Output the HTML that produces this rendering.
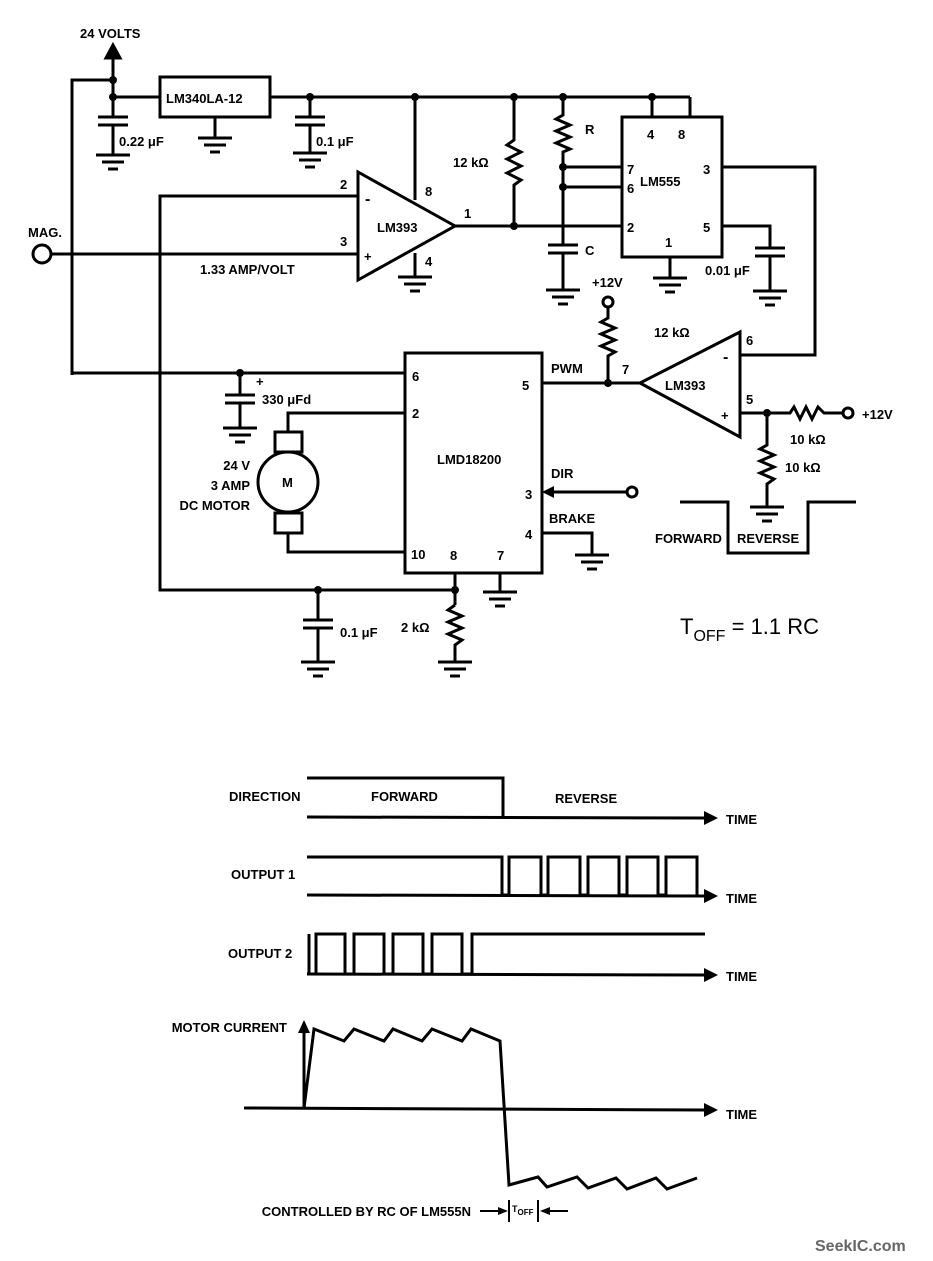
<!DOCTYPE html>
<html><head><meta charset="utf-8"><style>
html,body{margin:0;padding:0;background:#fff;}
svg{display:block;}
text{font-family:"Liberation Sans",sans-serif;font-weight:bold;font-size:13px;fill:#000;}
</style></head><body>
<svg width="933" height="1261" viewBox="0 0 933 1261" xmlns="http://www.w3.org/2000/svg">
<defs>
<g id="gnd"><line x1="-17" y1="0" x2="17" y2="0"/><line x1="-11" y1="7" x2="11" y2="7"/><line x1="-5" y1="14" x2="5" y2="14"/></g>
<g id="cap"><line x1="-15" y1="0" x2="15" y2="0"/><line x1="-15" y1="8" x2="15" y2="8"/></g>
</defs>
<g stroke="#000" stroke-width="3" fill="none" stroke-linejoin="miter">
<polyline points="72,375 72,80 113,80"/>
<line x1="113" y1="97" x2="113" y2="55"/>
<polygon points="113,45 106,58 120,58" fill="#000"/>
<line x1="113" y1="97" x2="160" y2="97"/>
<rect x="160" y="77" width="110" height="40"/>
<line x1="270" y1="97" x2="690" y2="97"/>
<line x1="690" y1="97" x2="690" y2="117"/>
<line x1="652" y1="97" x2="652" y2="117"/>
<line x1="113" y1="97" x2="113" y2="117"/><use href="#cap" x="113" y="117"/><line x1="113" y1="125" x2="113" y2="155"/><use href="#gnd" x="113" y="155"/>
<line x1="215" y1="117" x2="215" y2="138"/><use href="#gnd" x="215" y="138"/>
<line x1="310" y1="97" x2="310" y2="117"/><use href="#cap" x="310" y="117"/><line x1="310" y1="125" x2="310" y2="153"/><use href="#gnd" x="310" y="153"/>
<polygon points="358,172 358,280 455,226"/>
<line x1="415" y1="97" x2="415" y2="200"/>
<line x1="415" y1="253" x2="415" y2="277"/><use href="#gnd" x="415" y="277"/>
<polyline points="358,196 160,196 160,590 455,590"/>
<line x1="51" y1="254" x2="358" y2="254"/>
<circle cx="42" cy="254" r="9"/>
<line x1="455" y1="226" x2="622" y2="226"/>
<polyline points="514,97 514,140 507,145 521,152 507,159 521,166 507,173 521,180 514,185 514,226"/>
<polyline points="563,97 563,115 556,119 570,125 556,131 570,137 556,143 570,149 563,152 563,245"/>
<line x1="563" y1="167" x2="622" y2="167"/><line x1="563" y1="187" x2="622" y2="187"/>
<use href="#cap" x="563" y="245"/><line x1="563" y1="253" x2="563" y2="290"/><use href="#gnd" x="563" y="290"/>
<rect x="622" y="117" width="100" height="140"/>
<line x1="670" y1="257" x2="670" y2="278"/><use href="#gnd" x="670" y="278"/>
<polyline points="722,167 815,167 815,355 740,355"/>
<polyline points="722,226 770,226 770,248"/><use href="#cap" x="770" y="248"/><line x1="770" y1="256" x2="770" y2="291"/><use href="#gnd" x="770" y="291"/>
<circle cx="608" cy="302" r="5"/>
<polyline points="608,307 608,318 601,322 615,328 601,334 615,340 601,346 615,352 608,356 608,383"/>
<line x1="541" y1="383" x2="640" y2="383"/>
<polygon points="740,332 740,437 640,383"/>
<polyline points="740,413 790,413 794,407 800,419 806,407 812,419 818,407 824,413 843,413"/>
<circle cx="848" cy="413" r="5"/>
<polyline points="767,413 767,445 760,449 774,455 760,461 774,467 760,473 774,479 767,484 767,507"/><use href="#gnd" x="767" y="507"/>
<polyline points="680,502 728,502 728,553 808,553 808,502 856,502"/>
<rect x="405" y="353" width="137" height="220"/>
<line x1="72" y1="373" x2="405" y2="373"/>
<line x1="240" y1="373" x2="240" y2="395"/><use href="#cap" x="240" y="395"/><line x1="240" y1="403" x2="240" y2="428"/><use href="#gnd" x="240" y="428"/>
<polyline points="405,413 288,413 288,432"/>
<rect x="275" y="432" width="27" height="20"/>
<circle cx="288" cy="482" r="30"/>
<rect x="275" y="513" width="27" height="20"/>
<polyline points="288,533 288,552 405,552"/>
<line x1="455" y1="573" x2="455" y2="605"/>
<polyline points="455,605 448,610 462,616 448,622 462,628 448,634 462,640 455,645 455,662"/><use href="#gnd" x="455" y="662"/>
<line x1="318" y1="590" x2="318" y2="620"/><use href="#cap" x="318" y="620"/><line x1="318" y1="628" x2="318" y2="662"/><use href="#gnd" x="318" y="662"/>
<line x1="500" y1="573" x2="500" y2="592"/><use href="#gnd" x="500" y="592"/>
<line x1="553" y1="492" x2="626" y2="492"/><circle cx="632" cy="492" r="5"/>
<polyline points="542,533 592,533 592,555"/><use href="#gnd" x="592" y="555"/>
<polyline points="307,778 503,778 503,817"/>
<line x1="307" y1="817" x2="706" y2="818"/>
<path d="M307,857 H502 V895 H509 V857 H541 V895 H548 V857 H580 V895 H588 V857 H619 V895 H627 V857 H658 V895 H666 V857 H697 V895"/>
<line x1="307" y1="895" x2="706" y2="896"/>
<path d="M309,974 V934 M316,974 V934 H345 V974 H354 V934 H384 V974 H393 V934 H423 V974 H432 V934 H462 V974 H472 V934 H705"/>
<line x1="307" y1="974" x2="706" y2="975"/>
<line x1="244" y1="1108" x2="706" y2="1110"/>
<line x1="304" y1="1108" x2="304" y2="1030"/>
<polyline points="304,1108 314,1029 344,1041 354,1029 384,1041 393,1029 422,1041 432,1029 462,1041 471,1029 500,1041 509,1185 538,1177 547,1187 577,1177 588,1188 616,1178 627,1189 656,1178 667,1189 697,1178"/>
<line x1="480" y1="1211" x2="500" y2="1211" stroke-width="2"/>
<line x1="509" y1="1200" x2="509" y2="1222" stroke-width="2"/>
<line x1="538" y1="1200" x2="538" y2="1222" stroke-width="2"/>
<line x1="548" y1="1211" x2="568" y2="1211" stroke-width="2"/>
</g>
<g fill="#000">
<circle cx="113" cy="80" r="4"/><circle cx="113" cy="97" r="4"/><circle cx="310" cy="97" r="4"/><circle cx="415" cy="97" r="4"/>
<circle cx="514" cy="97" r="4"/><circle cx="563" cy="97" r="4"/><circle cx="652" cy="97" r="4"/>
<circle cx="514" cy="226" r="4"/><circle cx="563" cy="167" r="4"/><circle cx="563" cy="187" r="4"/>
<circle cx="608" cy="383" r="4"/><circle cx="767" cy="413" r="4"/><circle cx="240" cy="373" r="4"/>
<circle cx="318" cy="590" r="4"/><circle cx="455" cy="590" r="4"/>
<polygon points="542,492 554,486 554,498"/>
<polygon points="718,818 704,811 704,825"/><polygon points="718,896 704,889 704,903"/>
<polygon points="718,975 704,968 704,982"/><polygon points="718,1110 704,1103 704,1117"/>
<polygon points="304,1020 298,1033 310,1033"/>
<polygon points="508,1211 498,1207 498,1215"/><polygon points="540,1211 550,1207 550,1215"/>
</g>
<text x="80" y="38">24 VOLTS</text>
<text x="166" y="103">LM340LA-12</text>
<text x="119" y="146">0.22 μF</text>
<text x="316" y="146">0.1 μF</text>
<text x="28" y="237">MAG.</text>
<text x="200" y="274">1.33 AMP/VOLT</text>
<text x="340" y="189">2</text><text x="340" y="246">3</text>
<text x="365" y="204" style="font-size:16px">-</text><text x="364" y="261">+</text>
<text x="377" y="232">LM393</text>
<text x="425" y="196">8</text><text x="425" y="266">4</text><text x="464" y="218">1</text>
<text x="453" y="167">12 kΩ</text>
<text x="585" y="134">R</text><text x="585" y="255">C</text>
<text x="647" y="139">4</text><text x="678" y="139">8</text>
<text x="627" y="174">7</text><text x="627" y="193">6</text>
<text x="640" y="186">LM555</text>
<text x="703" y="174">3</text><text x="627" y="232">2</text><text x="703" y="232">5</text><text x="665" y="247">1</text>
<text x="705" y="275">0.01 μF</text>
<text x="592" y="287">+12V</text>
<text x="654" y="337">12 kΩ</text>
<text x="551" y="373">PWM</text><text x="622" y="374">7</text>
<text x="746" y="345">6</text><text x="746" y="404">5</text>
<text x="723" y="362" style="font-size:16px">-</text><text x="721" y="420">+</text>
<text x="665" y="390">LM393</text>
<text x="862" y="419">+12V</text>
<text x="790" y="444">10 kΩ</text><text x="785" y="472">10 kΩ</text>
<text x="655" y="543">FORWARD</text><text x="737" y="543">REVERSE</text>
<text x="680" y="634" style="font-size:22px;font-weight:normal">T<tspan style="font-size:16px" dy="7">OFF</tspan><tspan dy="-7"> = 1.1 RC</tspan></text>
<text x="412" y="381">6</text><text x="412" y="418">2</text><text x="522" y="390">5</text>
<text x="437" y="464">LMD18200</text>
<text x="551" y="478">DIR</text><text x="525" y="499">3</text>
<text x="549" y="523">BRAKE</text><text x="525" y="539">4</text>
<text x="411" y="559">10</text><text x="450" y="560">8</text><text x="497" y="560">7</text>
<text x="256" y="386">+</text><text x="262" y="404">330 μFd</text>
<text x="282" y="487">M</text>
<text x="250" y="470" text-anchor="end">24 V</text>
<text x="250" y="490" text-anchor="end">3 AMP</text>
<text x="250" y="510" text-anchor="end">DC MOTOR</text>
<text x="340" y="637">0.1 μF</text><text x="401" y="632">2 kΩ</text>
<text x="229" y="801">DIRECTION</text>
<text x="371" y="801">FORWARD</text><text x="555" y="803">REVERSE</text>
<text x="726" y="824">TIME</text>
<text x="231" y="879">OUTPUT 1</text><text x="726" y="903">TIME</text>
<text x="228" y="958">OUTPUT 2</text><text x="726" y="981">TIME</text>
<text x="287" y="1032" text-anchor="end">MOTOR CURRENT</text><text x="726" y="1119">TIME</text>
<text x="471" y="1216" text-anchor="end">CONTROLLED BY RC OF LM555N</text>
<text x="512" y="1212" style="font-size:9px">T<tspan style="font-size:8px" dy="3">OFF</tspan></text>
<text x="815" y="1251" style="font-size:16px;fill:#666">SeekIC.com</text>
</svg>
</body></html>
